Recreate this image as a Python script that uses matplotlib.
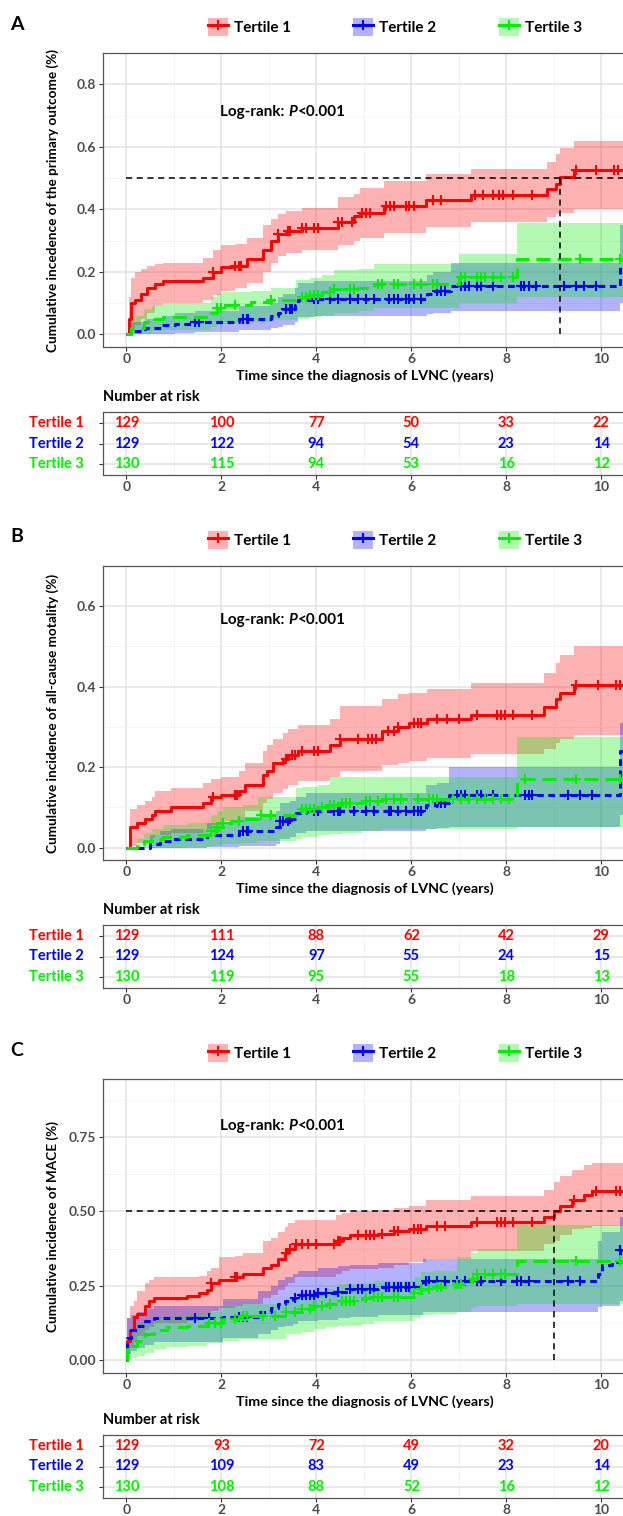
import numpy as np
import matplotlib.pyplot as plt
import matplotlib.transforms as mtransforms
from matplotlib.lines import Line2D
from matplotlib.patches import Patch

plt.rcParams['font.family'] = ['Lato', 'DejaVu Sans']
plt.rcParams['font.weight'] = 'bold'

# ---------------- dati ----------------
groups = ["Tertile 1", "Tertile 2", "Tertile 3"]
risk_times = [0, 2, 4, 6, 8, 10]
follow_up_end = 10.6

# pannello A - outcome primario
a_t1_time = [0, 0.05, 0.1, 0.19, 0.3, 0.44, 0.6, 0.78, 1.61, 1.82, 1.99, 2.28, 2.53, 2.87, 3.04, 3.20, 3.37, 3.70,
             4.46, 4.79, 4.92, 5.42, 6.30, 7.26, 8.85, 9.05, 9.14, 9.43]
a_t1_est = [0, 0.05, 0.10, 0.11, 0.13, 0.15, 0.16, 0.17, 0.18, 0.20, 0.215, 0.22, 0.24, 0.27, 0.30, 0.32, 0.33, 0.34,
            0.36, 0.38, 0.39, 0.41, 0.43, 0.445, 0.465, 0.48, 0.505, 0.525]
a_t1_lo = [0, 0.0, 0.02, 0.03, 0.05, 0.07, 0.09, 0.10, 0.11, 0.125, 0.14, 0.15, 0.165, 0.20, 0.23, 0.25, 0.26, 0.27,
           0.285, 0.30, 0.31, 0.325, 0.345, 0.36, 0.375, 0.385, 0.39, 0.40]
a_t1_hi = [0, 0.12, 0.18, 0.20, 0.21, 0.22, 0.225, 0.23, 0.245, 0.27, 0.285, 0.29, 0.31, 0.35, 0.37, 0.385, 0.395, 0.405,
           0.44, 0.45, 0.467, 0.49, 0.512, 0.53, 0.553, 0.577, 0.597, 0.62]
a_t1_cens = [1.82, 2.28, 2.37, 2.41, 3.20, 3.41, 3.45, 3.70, 3.79, 3.95, 4.04, 4.46, 4.54, 4.75, 4.96, 5.05, 5.13, 5.46,
             5.55, 5.63, 5.88, 5.96, 6.05, 6.46, 6.63, 7.34, 7.51, 7.72, 7.84, 7.93, 8.14, 8.55, 9.47, 9.89, 10.27, 10.35]

a_t2_time = [0, 0.1, 0.4, 0.75, 1.03, 1.45, 2.37, 3.04, 3.20, 3.29, 3.54, 3.62, 3.95, 6.34, 6.46, 6.84, 10.39]
a_t2_est = [0, 0.01, 0.02, 0.03, 0.035, 0.04, 0.05, 0.06, 0.07, 0.08, 0.095, 0.11, 0.115, 0.13, 0.14, 0.155, 0.22]
a_t2_lo = [0, 0, 0, 0.002, 0.005, 0.008, 0.015, 0.02, 0.025, 0.03, 0.04, 0.055, 0.058, 0.065, 0.07, 0.075, 0.10]
a_t2_hi = [0, 0.04, 0.05, 0.06, 0.07, 0.075, 0.09, 0.10, 0.12, 0.13, 0.15, 0.165, 0.17, 0.19, 0.20, 0.228, 0.35]
a_t2_cens = [1.45, 1.53, 2.45, 2.53, 2.57, 3.37, 3.45, 3.49, 3.95, 4.04, 4.29, 4.46, 4.71, 4.87, 5.04, 5.21, 5.54, 5.63,
             5.71, 5.88, 5.96, 6.05, 6.21, 6.55, 6.63, 6.71, 7.05, 7.13, 7.22, 7.38, 7.47, 7.72, 8.30, 8.38, 8.47, 8.63,
             9.22, 9.47, 9.64, 9.89]

a_t3_time = [0, 0.1, 0.36, 0.53, 0.78, 1.78, 1.91, 2.03, 2.62, 3.04, 3.58, 3.87, 4.12, 4.37, 4.87, 5.21, 7.01, 8.22]
a_t3_est = [0, 0.02, 0.04, 0.05, 0.055, 0.07, 0.085, 0.095, 0.105, 0.11, 0.12, 0.125, 0.135, 0.145, 0.15, 0.16, 0.185,
            0.24]
a_t3_lo = [0, 0, 0.005, 0.01, 0.015, 0.025, 0.03, 0.035, 0.04, 0.045, 0.05, 0.055, 0.06, 0.07, 0.075, 0.085, 0.10, 0.12]
a_t3_hi = [0, 0.06, 0.08, 0.09, 0.10, 0.12, 0.13, 0.135, 0.14, 0.15, 0.175, 0.18, 0.19, 0.205, 0.21, 0.225, 0.258, 0.355]
a_t3_cens = [1.91, 1.99, 2.28, 3.04, 3.70, 3.79, 3.87, 3.95, 4.04, 4.29, 4.37, 4.71, 4.79, 5.29, 5.38, 5.63, 5.71, 6.05,
             6.21, 6.46, 6.55, 7.05, 7.13, 7.38, 7.47, 7.55, 7.72, 7.88, 8.14, 9.56, 10.39]

a_risk_t1 = [129, 100, 77, 50, 33, 22]
a_risk_t2 = [129, 122, 94, 54, 23, 14]
a_risk_t3 = [130, 115, 94, 53, 16, 12]

# pannello B - mortalita'
b_t1_time = [0, 0.07, 0.23, 0.40, 0.53, 0.61, 0.94, 1.61, 1.78, 1.99, 2.37, 2.49, 2.87, 2.95, 3.08, 3.29, 3.41, 3.62,
             4.29, 4.50, 5.38, 5.71, 5.96, 6.34, 7.26, 8.80, 9.05, 9.14, 9.43]
b_t1_est = [0, 0.05, 0.06, 0.07, 0.08, 0.09, 0.10, 0.11, 0.125, 0.13, 0.14, 0.155, 0.18, 0.19, 0.21, 0.22, 0.23, 0.24,
            0.255, 0.27, 0.29, 0.30, 0.31, 0.32, 0.33, 0.35, 0.37, 0.385, 0.405]
b_t1_lo = [0, 0.005, 0.012, 0.018, 0.024, 0.03, 0.036, 0.045, 0.056, 0.065, 0.075, 0.09, 0.11, 0.12, 0.135, 0.145,
           0.155, 0.165, 0.176, 0.19, 0.205, 0.21, 0.215, 0.222, 0.232, 0.245, 0.26, 0.27, 0.28]
b_t1_hi = [0, 0.095, 0.105, 0.115, 0.125, 0.14, 0.148, 0.16, 0.17, 0.175, 0.19, 0.21, 0.24, 0.255, 0.27, 0.285, 0.295,
           0.305, 0.32, 0.352, 0.37, 0.382, 0.385, 0.395, 0.41, 0.435, 0.46, 0.478, 0.50]
b_t1_cens = [1.82, 2.28, 2.32, 3.37, 3.49, 3.54, 3.70, 3.95, 4.04, 4.50, 4.87, 5.08, 5.17, 5.25, 5.50, 5.63, 5.71, 6.05,
             6.13, 6.21, 6.55, 6.76, 7.01, 7.38, 7.80, 7.88, 7.97, 8.14, 8.55, 9.47, 9.93, 10.30, 10.39]

b_t2_time = [0, 0.49, 0.70, 0.94, 1.70, 2.37, 3.16, 3.24, 3.45, 3.58, 3.79, 6.30, 6.55, 6.80, 10.39]
b_t2_est = [0, 0.01, 0.015, 0.02, 0.03, 0.04, 0.05, 0.065, 0.07, 0.085, 0.09, 0.105, 0.11, 0.13, 0.24]
b_t2_lo = [0, 0, 0, 0, 0.002, 0.005, 0.01, 0.02, 0.025, 0.035, 0.04, 0.045, 0.048, 0.05, 0.08]
b_t2_hi = [0, 0.03, 0.04, 0.045, 0.06, 0.075, 0.09, 0.11, 0.115, 0.125, 0.135, 0.155, 0.16, 0.20, 0.31]
b_t2_cens = [2.45, 2.53, 2.57, 3.24, 3.29, 3.41, 3.45, 3.95, 4.04, 4.37, 4.46, 4.50, 4.79, 5.04, 5.21, 5.54, 5.58, 5.71,
             5.88, 6.05, 6.13, 6.21, 6.55, 6.63, 6.71, 6.96, 7.05, 7.13, 7.38, 7.47, 7.72, 8.39, 8.47, 8.55, 9.31, 9.56,
             9.81]

b_t3_time = [0, 0.23, 0.36, 0.53, 0.78, 1.28, 1.78, 1.91, 2.03, 2.20, 2.45, 2.78, 3.58, 3.70, 4.04, 4.29, 4.54, 4.96,
             5.38, 8.22]
b_t3_est = [0, 0.01, 0.015, 0.02, 0.025, 0.03, 0.04, 0.05, 0.06, 0.065, 0.07, 0.08, 0.09, 0.095, 0.10, 0.105, 0.11,
            0.115, 0.12, 0.17]
b_t3_lo = [0, 0, 0, 0, 0, 0.002, 0.004, 0.006, 0.008, 0.01, 0.012, 0.015, 0.02, 0.025, 0.03, 0.033, 0.036, 0.04, 0.045,
           0.05]
b_t3_hi = [0, 0.02, 0.035, 0.045, 0.055, 0.06, 0.08, 0.09, 0.10, 0.10, 0.105, 0.125, 0.148, 0.15, 0.155, 0.176, 0.176,
           0.176, 0.176, 0.276]
b_t3_cens = [1.78, 1.87, 1.91, 2.03, 2.37, 2.83, 3.04, 3.70, 3.79, 3.87, 3.95, 4.12, 4.29, 4.37, 4.54, 4.62, 4.71, 5.04,
             5.13, 5.29, 5.46, 5.63, 5.79, 6.13, 6.38, 6.46, 6.55, 6.88, 7.05, 7.22, 7.38, 7.55, 7.72, 7.88, 8.05, 8.39,
             9.47, 10.39]

b_risk_t1 = [129, 111, 88, 62, 42, 29]
b_risk_t2 = [129, 124, 97, 55, 24, 15]
b_risk_t3 = [130, 119, 95, 55, 18, 13]

# pannello C - MACE
c_t1_time = [0, 0.02, 0.07, 0.15, 0.23, 0.40, 0.48, 0.57, 1.28, 1.53, 1.70, 1.78, 1.95, 2.28, 2.45, 2.87, 3.04, 3.20,
             3.33, 3.41, 3.54, 4.41, 4.54, 4.71, 5.29, 5.63, 5.96, 6.30, 7.26, 8.80, 9.01, 9.14, 9.39, 9.64, 9.81]
c_t1_est = [0, 0.065, 0.10, 0.143, 0.155, 0.18, 0.20, 0.21, 0.215, 0.225, 0.235, 0.26, 0.27, 0.28, 0.29, 0.31, 0.32,
            0.34, 0.36, 0.375, 0.39, 0.40, 0.41, 0.42, 0.425, 0.435, 0.44, 0.45, 0.465, 0.48, 0.50, 0.52, 0.54, 0.555,
            0.57]
c_t1_lo = [0, 0.02, 0.04, 0.06, 0.08, 0.10, 0.11, 0.126, 0.13, 0.14, 0.15, 0.165, 0.175, 0.18, 0.19, 0.21, 0.22, 0.235,
           0.25, 0.26, 0.28, 0.29, 0.30, 0.305, 0.31, 0.32, 0.33, 0.34, 0.368, 0.39, 0.40, 0.42, 0.44, 0.445, 0.45]
c_t1_hi = [0, 0.14, 0.18, 0.20, 0.233, 0.26, 0.27, 0.278, 0.28, 0.284, 0.30, 0.31, 0.346, 0.35, 0.36, 0.40, 0.41, 0.43,
           0.447, 0.46, 0.47, 0.487, 0.495, 0.50, 0.505, 0.51, 0.52, 0.538, 0.553, 0.573, 0.60, 0.618, 0.64, 0.655, 0.663]
c_t1_cens = [1.78, 2.28, 2.32, 3.37, 3.45, 3.58, 3.70, 3.83, 4.00, 4.37, 4.46, 4.50, 4.87, 5.04, 5.13, 5.21, 5.38, 5.63,
             5.71, 6.05, 6.13, 6.21, 6.55, 6.71, 7.38, 7.80, 7.88, 7.97, 8.14, 8.55, 9.43, 9.89, 10.31, 10.39]

c_t2_time = [0, 0.02, 0.1, 0.23, 0.40, 0.57, 2.03, 2.78, 3.04, 3.20, 3.33, 3.50, 3.62, 4.04, 4.46, 4.71, 5.29, 6.25,
             9.93, 10.02, 10.23, 10.39]
c_t2_est = [0, 0.075, 0.10, 0.115, 0.13, 0.14, 0.145, 0.16, 0.175, 0.19, 0.20, 0.21, 0.22, 0.225, 0.23, 0.24, 0.245,
            0.265, 0.29, 0.32, 0.33, 0.37]
c_t2_lo = [0, 0.02, 0.03, 0.04, 0.05, 0.06, 0.075, 0.087, 0.10, 0.11, 0.115, 0.12, 0.13, 0.135, 0.14, 0.143, 0.15, 0.16,
           0.177, 0.18, 0.18, 0.20]
c_t2_hi = [0, 0.14, 0.15, 0.16, 0.17, 0.18, 0.205, 0.233, 0.25, 0.27, 0.28, 0.29, 0.30, 0.31, 0.315, 0.32, 0.325, 0.34,
           0.40, 0.43, 0.43, 0.48]
c_t2_cens = [1.45, 1.74, 2.37, 2.45, 2.53, 3.54, 3.70, 3.79, 3.87, 3.95, 4.04, 4.21, 4.46, 4.71, 4.87, 4.96, 5.13, 5.21,
             5.46, 5.54, 5.63, 5.71, 5.79, 5.88, 5.96, 6.05, 6.30, 6.38, 6.55, 6.71, 6.96, 7.13, 7.38, 7.47, 7.88, 8.22,
             8.30, 8.47, 9.31, 9.56, 10.39]

c_t3_time = [0, 0.02, 0.11, 0.23, 0.40, 0.57, 0.86, 1.28, 1.70, 2.03, 2.37, 3.37, 3.70, 3.95, 4.21, 4.46, 4.96, 5.21,
             6.05, 6.21, 6.46, 6.96, 7.26, 7.38, 8.22]
c_t3_est = [0, 0.036, 0.047, 0.064, 0.087, 0.10, 0.11, 0.115, 0.126, 0.137, 0.149, 0.16, 0.17, 0.18, 0.19, 0.20, 0.208,
            0.213, 0.227, 0.239, 0.244, 0.256, 0.272, 0.29, 0.334]
c_t3_lo = [0, 0.0, 0.005, 0.014, 0.025, 0.036, 0.042, 0.047, 0.058, 0.065, 0.07, 0.087, 0.095, 0.104, 0.11, 0.115, 0.12,
           0.13, 0.14, 0.15, 0.155, 0.16, 0.175, 0.18, 0.19]
c_t3_hi = [0, 0.075, 0.09, 0.12, 0.13, 0.143, 0.15, 0.155, 0.16, 0.18, 0.19, 0.21, 0.22, 0.233, 0.24, 0.256, 0.26,
           0.265, 0.28, 0.295, 0.30, 0.345, 0.36, 0.374, 0.453]
c_t3_cens = [1.74, 1.87, 1.99, 2.28, 2.45, 2.53, 2.87, 3.12, 3.37, 3.54, 3.70, 3.87, 3.95, 4.12, 4.29, 4.54, 4.62, 4.71,
             4.79, 5.04, 5.21, 5.29, 5.38, 5.63, 5.71, 6.05, 6.21, 6.38, 6.55, 6.63, 6.96, 7.05, 7.30, 7.38, 7.55, 7.72,
             7.88, 7.97, 9.47, 10.39]

c_risk_t1 = [129, 93, 72, 49, 32, 20]
c_risk_t2 = [129, 109, 83, 49, 23, 14]
c_risk_t3 = [130, 108, 88, 52, 16, 12]

# ---------------- stile ----------------
colori = ["#FF0000", "#0000FF", "#00EE00"]
tratteggi = [None, (2.2, 1.5), (4.6, 2.3)]
W, H = 623, 1516
grigio_tick = "#4D4D4D"
spessore = 2.2


def rett(left, top, right, bottom):
    # rettangolo in pixel (origine in alto) -> coordinate figura
    return [left / W, 1 - bottom / H, (right - left) / W, (bottom - top) / H]


def stile_assi(ax):
    ax.set_facecolor("white")
    ax.set_xlim(-0.5, 10.5)
    ax.set_xticks(risk_times)
    ax.set_xticks([1, 3, 5, 7, 9], minor=True)
    ax.grid(which="major", color="#E3E3E3", lw=1.1)
    ax.grid(which="minor", color="#F2F2F2", lw=0.6)
    ax.set_axisbelow(True)
    for s in ax.spines.values():
        s.set_color("#555555")
        s.set_linewidth(0.9)
    ax.tick_params(axis="both", which="major", length=3, width=0.8, color="#333333",
                   labelsize=10, labelcolor=grigio_tick, pad=1.5)
    ax.tick_params(axis="both", which="minor", length=0)
    for lab in ax.get_xticklabels():
        lab.set_fontweight("bold")


def banda(ax, tempi, basso, alto, i):
    t = np.append(tempi, follow_up_end)
    ax.fill_between(t, np.append(basso, basso[-1]), np.append(alto, alto[-1]), step="post",
                    color=colori[i], alpha=0.3, lw=0)


def linea(ax, tempi, stima, censure, i):
    t = np.append(tempi, follow_up_end)
    s = np.append(stima, stima[-1])
    ln, = ax.step(t, s, where="post", color=colori[i], lw=spessore, solid_capstyle="butt")
    if tratteggi[i] is not None:
        ln.set_dashes(tratteggi[i])
    idx = np.searchsorted(tempi, censure, side="right") - 1
    ax.plot(censure, np.array(stima)[idx], ls="none", marker="+", ms=7, mew=1.5, color=colori[i])


def pannello(lettera, top, curve, rischio, ylim, yticks, yfmt, ylabel, mediana, logrank_y, tab_shift=0):
    # posizioni in pixel dell'originale
    main_top, main_bot = top + 53, top + 347
    tab_top, tab_bot = top + 412 + tab_shift, top + 475 + tab_shift

    ax = fig.add_axes(rett(102.7, main_top, 625, main_bot))
    stile_assi(ax)
    ax.set_ylim(*ylim)
    ax.set_yticks(yticks)
    passo = yticks[1] - yticks[0]
    ax.set_yticks([v + passo / 2 for v in yticks], minor=True)
    ax.set_yticklabels([yfmt.format(v) for v in yticks], fontweight="bold")

    for i, c in enumerate(curve):
        banda(ax, c[0], c[2], c[3], i)
    for i, c in enumerate(curve):
        linea(ax, c[0], c[1], c[4], i)

    if mediana is not None:
        ax.plot([0, 11], [0.5, 0.5], color="black", lw=1.1, dashes=(4, 3))
        ax.plot([mediana, mediana], [0, 0.5], color="black", lw=1.1, dashes=(4, 3))

    t1 = ax.text(1.98, logrank_y, "Log-rank: ", fontsize=11, fontweight="bold", va="center", ha="left")
    t2 = ax.annotate("P", xy=(1, 0), xycoords=t1, va="bottom", ha="left", fontsize=11,
                     fontweight="bold", fontstyle="italic")
    ax.annotate("<0.001", xy=(1, 0), xycoords=t2, va="bottom", ha="left", fontsize=11, fontweight="bold")

    fig.text(53 / W, 1 - (main_top + main_bot) / 2 / H, ylabel, rotation=90, ha="center", va="center",
             fontsize=9.8, fontweight="bold")
    fig.text(365 / W, 1 - (top + 376) / H, "Time since the diagnosis of LVNC (years)", ha="center", va="center",
             fontsize=10.3, fontweight="bold")
    fig.text(17 / W, 1 - (top + 24) / H, lettera, ha="center", va="center", fontsize=14, fontweight="bold")

    # legenda
    handles = [(Patch(facecolor=colori[i], alpha=0.3, lw=0),
                Line2D([], [], color=colori[i], lw=spessore, marker="+", ms=7, mew=1.5)) for i in range(3)]
    fig.legend(handles, groups, loc="center", bbox_to_anchor=(395 / W, 1 - (top + 27) / H), ncol=3,
               frameon=False, fontsize=11, handlelength=1.3, handleheight=1.35, handletextpad=0.4,
               columnspacing=4.1, borderpad=0)

    # tabella numero a rischio
    fig.text(103 / W, 1 - (top + 397 + tab_shift) / H, "Number at risk", ha="left", va="center",
             fontsize=10.5, fontweight="bold")
    axt = fig.add_axes(rett(102.7, tab_top, 625, tab_bot))
    stile_assi(axt)
    axt.set_ylim(0.45, 3.55)
    axt.set_yticks([3, 2, 1])
    axt.set_yticklabels(["", "", ""])
    etichette = mtransforms.blended_transform_factory(fig.transFigure, axt.transData)
    for i, riga in enumerate(rischio):
        axt.text(84 / W, 3 - i, groups[i], transform=etichette, ha="right", va="center",
                 color=colori[i], fontsize=10.5, fontweight="bold")
        for t, n in zip(risk_times, riga):
            axt.text(t, 3 - i, str(n), ha="center", va="center", color=colori[i], fontsize=10.5, fontweight="bold")


fig = plt.figure(figsize=(W / 100, H / 100), dpi=100)
fig.patch.set_facecolor("white")

pannello("A", 0,
         [(a_t1_time, a_t1_est, a_t1_lo, a_t1_hi, a_t1_cens),
          (a_t2_time, a_t2_est, a_t2_lo, a_t2_hi, a_t2_cens),
          (a_t3_time, a_t3_est, a_t3_lo, a_t3_hi, a_t3_cens)],
         [a_risk_t1, a_risk_t2, a_risk_t3],
         (-0.04, 0.85), [0.0, 0.2, 0.4, 0.6, 0.8], "{:.1f}",
         "Cumulative incedence of the primary outcome (%)", 9.13, 0.712)

pannello("B", 513,
         [(b_t1_time, b_t1_est, b_t1_lo, b_t1_hi, b_t1_cens),
          (b_t2_time, b_t2_est, b_t2_lo, b_t2_hi, b_t2_cens),
          (b_t3_time, b_t3_est, b_t3_lo, b_t3_hi, b_t3_cens)],
         [b_risk_t1, b_risk_t2, b_risk_t3],
         (-0.031, 0.675), [0.0, 0.2, 0.4, 0.6], "{:.1f}",
         "Cumulative incidence of all-cause motality (%)", None, 0.565)

pannello("C", 1026,
         [(c_t1_time, c_t1_est, c_t1_lo, c_t1_hi, c_t1_cens),
          (c_t2_time, c_t2_est, c_t2_lo, c_t2_hi, c_t2_cens),
          (c_t3_time, c_t3_est, c_t3_lo, c_t3_hi, c_t3_cens)],
         [c_risk_t1, c_risk_t2, c_risk_t3],
         (-0.044, 0.946), [0.0, 0.25, 0.5, 0.75], "{:.2f}",
         "Cumulative incidence of MACE (%)", 9.0, 0.787, tab_shift=-3)

fig.savefig("out.png", dpi=100)
